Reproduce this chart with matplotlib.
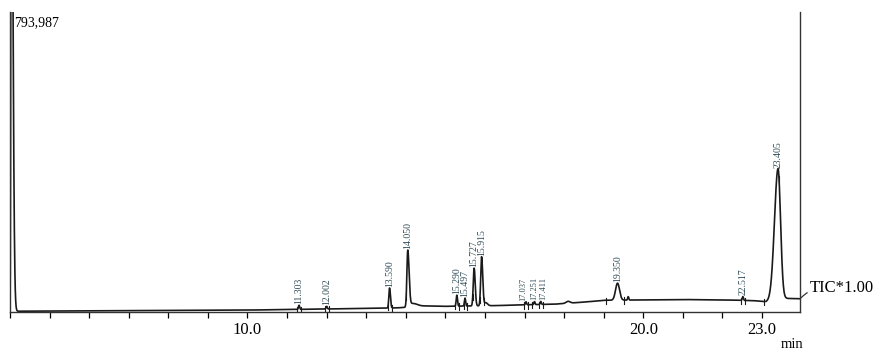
import numpy as np
import matplotlib.pyplot as plt

# total ion chromatogram, retention time in min
y_full = 793987

# labelled peaks: retention time, apex height above baseline, width (sigma, min), tail factor
peak_rt = [11.303, 12.002, 13.590, 14.050, 15.290, 15.497, 15.727, 15.915,
           17.037, 17.251, 17.411, 19.350, 22.517, 23.405]
peak_h = [11000, 7000, 53000, 150000, 29000, 21000, 100000, 130000,
          8000, 8000, 8000, 45000, 10000, 347000]
peak_w = [0.015, 0.015, 0.018, 0.022, 0.016, 0.015, 0.022, 0.022,
          0.014, 0.014, 0.014, 0.05, 0.015, 0.09]
peak_tail = [1.0, 1.0, 1.2, 1.5, 1.0, 1.0, 1.2, 1.3, 1.0, 1.0, 1.0, 1.0, 1.0, 0.7]

# unlabelled peaks (solvent front and small shoulders)
extra_rt = [4.03, 14.17, 16.02, 18.10, 19.62]
extra_h = [1600000, 9000, 8000, 5000, 9000]
extra_w = [0.010, 0.06, 0.03, 0.05, 0.014]
extra_tail = [4.0, 2.0, 1.5, 1.0, 1.0]

# baseline drift
base_t = [4.0, 6.0, 8.0, 10.0, 11.0, 12.0, 13.0, 13.8, 14.5, 15.0, 16.3, 17.0,
          17.8, 18.6, 19.0, 20.0, 21.0, 22.0, 22.8, 23.1, 23.6, 24.0]
base_v = [2000, 3000, 4000, 5000, 6500, 8000, 9500, 11000, 16000, 15000, 17000, 19000,
          21000, 27000, 31000, 32000, 33000, 32000, 30000, 27000, 36000, 35000]

# integration start/end marks
mark_t = [11.25, 11.36, 11.96, 12.05, 13.55, 13.65, 14.01, 15.25, 15.34, 15.46, 15.55,
          15.69, 15.87, 15.98, 16.98, 17.10, 17.20, 17.37, 17.46, 19.07, 19.52,
          22.47, 22.58, 23.06, 23.43]

tick_labels = {10: "10.0", 20: "20.0", 23: "23.0"}

# sideways nudge (points) for crowded labels
label_shift = {17.037: -2.0, 17.411: 2.0}

t = np.linspace(4.0, 24.0, 6000)


def shape(x, rt, h, w, tail):
    s = np.where(x < rt, w, w * tail)
    return h * np.exp(-0.5 * ((x - rt) / s) ** 2)


base = np.interp(t, base_t, base_v)
signal = base.copy()
for rt, h, w, k in zip(peak_rt + extra_rt, peak_h + extra_h,
                       peak_w + extra_w, peak_tail + extra_tail):
    signal += shape(t, rt, h, w, k)

plt.rcParams['font.family'] = ['Liberation Serif', 'DejaVu Serif']

fig = plt.figure(figsize=(8.74, 3.53), dpi=100)
ax = fig.add_axes([10 / 874, 41 / 353, 790 / 874, 300 / 353])
ax.plot(t, signal, color='#1a1a1a', lw=1.2, clip_on=True)

# peak labels
for rt, h in zip(peak_rt, peak_h):
    top = np.interp(rt, t, signal)
    fs = 6 if 17 < rt < 17.5 else 7
    ax.annotate("%.3f" % rt, xy=(rt, top + 3000), xycoords='data',
                xytext=(label_shift.get(rt, 0.0), 0), textcoords='offset points',
                rotation=90, ha='center', va='bottom', fontsize=fs, color='#2e4a55')

# integration markers
for m in mark_t:
    b = np.interp(m, t, signal)
    ax.plot([m, m], [b - 10000, b + 7000], color='#1a1a1a', lw=0.8)

ax.set_xlim(4.0, 23.96)
ax.set_ylim(0, y_full)
ax.spines['top'].set_visible(False)
for s in ['left', 'right', 'bottom']:
    ax.spines[s].set_linewidth(1.0)
    ax.spines[s].set_color('#333333')

ax.set_xticks(range(4, 24))
ax.set_xticklabels([tick_labels.get(v, "") for v in range(4, 24)], fontsize=12)
ax.tick_params(axis='x', direction='out', length=4, width=0.9, pad=3)
ax.set_yticks([])

ax.text(0.005, 0.985, "793,987", transform=ax.transAxes, ha='left', va='top', fontsize=10)
fig.text(792 / 874, 8 / 353, "min", ha='center', va='center', fontsize=10.5)

ax.annotate("TIC*1.00", xy=(23.96, signal[-1]), xycoords='data',
            xytext=(810 / 874, 65 / 353), textcoords='figure fraction',
            ha='left', va='center', fontsize=12,
            arrowprops=dict(arrowstyle='-', color='#333333', lw=0.9,
                            connectionstyle='arc3,rad=0.3', shrinkA=0, shrinkB=0),
            annotation_clip=False)

fig.savefig("out.png", dpi=100)
